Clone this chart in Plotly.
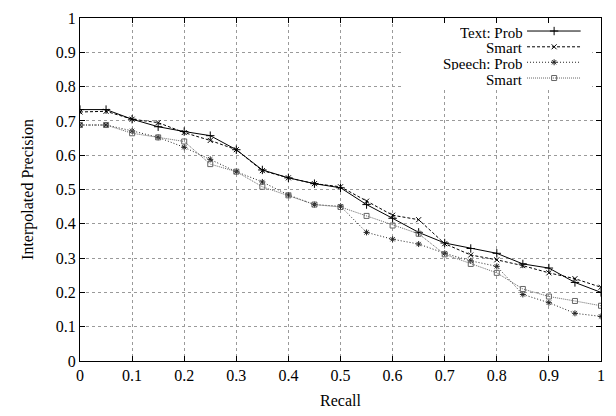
import plotly.graph_objects as go

recall = [0, 0.05, 0.1, 0.15, 0.2, 0.25, 0.3, 0.35, 0.4, 0.45, 0.5,
          0.55, 0.6, 0.65, 0.7, 0.75, 0.8, 0.85, 0.9, 0.95, 1.0]

text_prob = [0.733, 0.733, 0.705, 0.683, 0.669, 0.657, 0.616, 0.557, 0.534, 0.517, 0.505,
             0.456, 0.416, 0.375, 0.344, 0.328, 0.314, 0.283, 0.271, 0.229, 0.200]
text_smart = [0.726, 0.728, 0.705, 0.695, 0.666, 0.643, 0.616, 0.555, 0.534, 0.517, 0.508,
              0.466, 0.425, 0.412, 0.342, 0.309, 0.295, 0.278, 0.257, 0.240, 0.215]
speech_prob = [0.688, 0.688, 0.671, 0.652, 0.623, 0.588, 0.552, 0.522, 0.484, 0.456, 0.451,
               0.375, 0.355, 0.341, 0.314, 0.292, 0.276, 0.194, 0.170, 0.139, 0.130]
speech_smart = [0.688, 0.688, 0.664, 0.652, 0.640, 0.574, 0.552, 0.508, 0.483, 0.456, 0.449,
                0.423, 0.395, 0.371, 0.311, 0.283, 0.257, 0.210, 0.188, 0.175, 0.161]

series = [
    ("Text: Prob", text_prob, "solid", "cross-thin-open", "#000000", 6),
    ("Smart", text_smart, "3px,2px", "x-thin-open", "#000000", 5),
    ("Speech: Prob", speech_prob, "1px,2px", "asterisk-open", "#222222", 5),
    ("Smart", speech_smart, "1px,1px", "square-open", "#666666", 5),
]

FONT = "Liberation Serif, Times New Roman, serif"
fig = go.Figure()

for name, vals, dash, sym, col, ms in series:
    fig.add_trace(go.Scatter(
        x=recall, y=vals, mode="lines+markers", name=name, showlegend=False,
        line=dict(color=col, width=1, dash=dash),
        marker=dict(symbol=sym, size=ms, color=col, line=dict(width=1, color=col)),
    ))

# legend box (white, no border) and manual legend entries
fig.add_shape(type="rect", xref="x", yref="y", x0=0.62, x1=0.983, y0=0.795, y1=1.0,
              fillcolor="white", line=dict(width=0), layer="between")
leg_line_y = [0.962, 0.916, 0.871, 0.825]
leg_text_y = [0.959, 0.913, 0.868, 0.822]
for (name, vals, dash, sym, col, ms), ly, ty in zip(series, leg_line_y, leg_text_y):
    fig.add_trace(go.Scatter(
        x=[0.858, 0.91, 0.961], y=[ly, ly, ly], mode="lines", showlegend=False,
        line=dict(color=col, width=1, dash=dash), hoverinfo="skip"))
    fig.add_trace(go.Scatter(
        x=[0.91], y=[ly], mode="markers", showlegend=False,
        marker=dict(symbol=sym, size=ms, color=col, line=dict(width=1, color=col)),
        hoverinfo="skip"))
    fig.add_annotation(x=0.853, y=ty, xref="x", yref="y", text=name, showarrow=False,
                       xanchor="right", yanchor="middle", height=13, borderpad=0,
                       font=dict(family=FONT, size=15, color="black"))

axis_common = dict(
    showline=True, linecolor="black", linewidth=1, mirror="ticks",
    ticks="inside", ticklen=5, tickcolor="black", tickwidth=1,
    showgrid=True, gridcolor="#9a9a9a", griddash="dot", gridwidth=1,
    zeroline=False, tickfont=dict(family=FONT, size=16, color="black"),
)
fig.update_xaxes(range=[0, 1], dtick=0.1, tick0=0, tickformat="~g",
                 title=dict(text="Recall", font=dict(family=FONT, size=16, color="black"), standoff=11),
                 **axis_common)
fig.update_yaxes(range=[0, 1], dtick=0.1, tick0=0, tickformat="~g",
                 title=dict(text="Interpolated Precision", font=dict(family=FONT, size=16, color="black"), standoff=18),
                 **axis_common)

fig.update_layout(
    width=616, height=416,
    margin=dict(l=80, r=15, t=10, b=54),
    plot_bgcolor="white", paper_bgcolor="white",
    font=dict(family=FONT, size=16, color="black"),
)

# remove the page's default 8px body margin so the figure fills the window
fig.write_html("out.html", config={"displayModeBar": False},
               post_script="document.body.style.margin='0px';")
